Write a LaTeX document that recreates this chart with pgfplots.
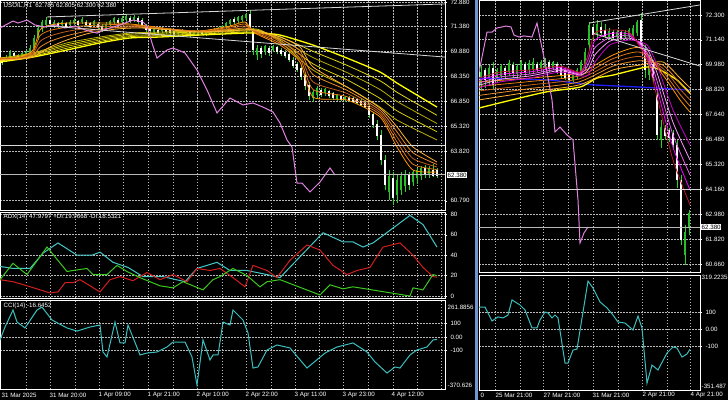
\documentclass[border=0pt]{standalone}
\usepackage{fontspec}
\setmainfont{Liberation Sans}
\usepackage{pgfplots}
\pgfplotsset{compat=1.18}

\definecolor{wickc}{RGB}{40,210,40}
\definecolor{bullc}{RGB}{40,190,40}
\definecolor{gridc}{RGB}{185,185,185}
\definecolor{orc0}{RGB}{255,150,0}
\definecolor{orc1}{RGB}{225,120,20}
\definecolor{orc2}{RGB}{195,95,25}
\definecolor{orc3}{RGB}{235,140,40}
\definecolor{orc4}{RGB}{255,175,50}
\definecolor{ye0}{RGB}{190,180,0}
\definecolor{ye1}{RGB}{215,205,10}
\definecolor{ye2}{RGB}{180,170,0}
\definecolor{ye3}{RGB}{225,215,20}
\definecolor{ye4}{RGB}{255,255,0}
\definecolor{purp}{RGB}{225,130,225}
\definecolor{mg0}{RGB}{190,20,50}
\definecolor{mg1}{RGB}{255,0,255}
\definecolor{mg2}{RGB}{235,90,235}
\definecolor{mg3}{RGB}{255,150,255}
\definecolor{mg4}{RGB}{200,0,200}
\definecolor{adxc}{RGB}{70,200,200}
\definecolor{dimc}{RGB}{210,30,30}
\definecolor{dipc}{RGB}{60,200,30}
\definecolor{ccic}{RGB}{60,190,190}
\definecolor{bluec}{RGB}{30,30,250}
\definecolor{tlc}{RGB}{215,215,215}
\definecolor{stripc}{RGB}{110,150,210}

\newcommand\mtf{\fontsize{6.2}{7}\selectfont}

\pgfplotsset{
  mtbase/.style={
    scale only axis, clip=true, anchor=south west,
    axis line style={draw=white,line width=0.6pt},
    tick style={white,line width=0.4pt},
    major tick length=2pt, tick align=outside,
    ytick pos=right, yticklabel pos=right,
    xtick pos=bottom, xtick style={draw=none}, xticklabels={},
    grid=major,
    major grid style={draw=gridc,line width=0.7pt,dash pattern=on 1.5pt off 1.5pt},
    ticklabel style={font=\mtf,text=white},
    /pgf/number format/assume math mode=true,
    unbounded coords=jump,
  },
  leftx/.style={xmin=0,xmax=445,xtick={26,50,75,99,123,148,173,197,222,246,271,295,319,343,368,393,417,441}},
  rightx/.style={xmin=479,xmax=700,xtick={495,520,543,568,593,618,642,667,690}},
  wick/.style={draw=wickc,line width=0.8pt,mark=none},
  bullb/.style={draw=bullc,line width=2.2pt,mark=none,line cap=butt},
  bearb/.style={draw=white,line width=2.2pt,mark=none,line cap=butt},
  rib/.style={mark=none,line width=0.8pt,smooth,tension=0.4},
}

\begin{document}
\begin{tikzpicture}
\fill[black] (0pt,0pt) rectangle (728pt,400pt);
\useasboundingbox (0pt,0pt) rectangle (728pt,400pt);

% ---------- left: price window
\begin{axis}[mtbase,leftx,at={(0pt,190pt)},width=445pt,height=210pt,
  ymin=60.232,ymax=73.0,
  ytick={72.88,71.38,69.88,68.35,66.85,65.32,63.82,60.79},
  yticklabels={72.880,71.380,69.880,68.350,66.850,65.320,63.820,60.790}]
\addplot[wick] coordinates {
(2,69.05)(2,69.53)(2,nan) (6,69.23)(6,69.66)(6,nan) (10,69.35)(10,69.96)(10,nan)
(14,69.47)(14,69.84)(14,nan) (18,69.35)(18,69.72)(18,nan) (22,69.47)(22,69.84)(22,nan)
(26,69.53)(26,69.96)(26,nan) (30,69.60)(30,70.26)(30,nan) (34,69.96)(34,70.87)(34,nan)
(38,70.57)(38,71.48)(38,nan) (42,71.05)(42,71.78)(42,nan) (46,71.30)(46,71.97)(46,nan)
(50,71.42)(50,71.91)(50,nan) (54,71.30)(54,71.78)(54,nan) (58,71.30)(58,71.66)(58,nan)
(62,71.36)(62,71.78)(62,nan) (66,71.30)(66,71.66)(66,nan) (70,71.42)(70,71.78)(70,nan)
(74,71.48)(74,71.91)(74,nan) (78,71.36)(78,71.78)(78,nan) (82,71.54)(82,71.97)(82,nan)
(86,71.36)(86,71.78)(86,nan) (90,71.30)(90,71.66)(90,nan) (94,71.42)(94,71.78)(94,nan)
(98,71.18)(98,71.66)(98,nan) (102,71.05)(102,71.54)(102,nan) (106,71.18)(106,71.66)(106,nan)
(110,71.36)(110,71.78)(110,nan) (114,71.54)(114,71.97)(114,nan) (118,71.48)(118,71.91)(118,nan)
(122,71.54)(122,72.03)(122,nan) (126,71.66)(126,72.15)(126,nan) (130,71.60)(130,72.03)(130,nan)
(134,71.66)(134,72.09)(134,nan) (138,71.54)(138,72.03)(138,nan) (142,71.30)(142,71.91)(142,nan)
(146,71.05)(146,71.54)(146,nan) (150,70.99)(150,71.42)(150,nan) (154,70.93)(154,71.36)(154,nan)
(158,70.87)(158,71.30)(158,nan) (162,70.99)(162,71.36)(162,nan) (166,70.93)(166,71.30)(166,nan)
(170,70.87)(170,71.30)(170,nan) (174,70.81)(174,71.24)(174,nan) (178,70.81)(178,71.18)(178,nan)
(182,70.87)(182,71.24)(182,nan) (186,70.81)(186,71.18)(186,nan) (190,70.75)(190,71.12)(190,nan)
(194,70.81)(194,71.12)(194,nan) (198,70.81)(198,71.18)(198,nan) (202,70.87)(202,71.18)(202,nan)
(206,70.81)(206,71.18)(206,nan) (210,70.87)(210,71.24)(210,nan) (214,70.93)(214,71.30)(214,nan)
(218,70.99)(218,71.36)(218,nan) (222,71.05)(222,71.48)(222,nan) (226,71.24)(226,71.66)(226,nan)
(230,71.42)(230,71.84)(230,nan) (234,71.54)(234,71.97)(234,nan) (238,71.60)(238,72.03)(238,nan)
(242,71.66)(242,72.09)(242,nan) (246,71.78)(246,72.21)(246,nan) (250,71.18)(250,72.39)(250,nan)
(253,69.66)(253,71.30)(253,nan) (257,69.35)(257,70.26)(257,nan) (261,69.47)(261,70.20)(261,nan)
(265,69.66)(265,70.26)(265,nan) (269,69.60)(269,70.20)(269,nan) (273,69.84)(273,70.26)(273,nan)
(277,69.72)(277,70.20)(277,nan) (281,69.60)(281,70.08)(281,nan) (285,69.47)(285,69.96)(285,nan)
(289,69.23)(289,69.84)(289,nan) (293,68.87)(293,69.53)(293,nan) (297,68.62)(297,69.23)(297,nan)
(301,68.14)(301,69.05)(301,nan) (305,67.53)(305,68.62)(305,nan) (309,66.92)(309,68.01)(309,nan)
(313,66.80)(313,67.53)(313,nan) (317,67.04)(317,67.77)(317,nan) (321,67.10)(321,67.65)(321,nan)
(325,67.16)(325,67.65)(325,nan) (329,67.04)(329,67.53)(329,nan) (333,66.92)(333,67.41)(333,nan)
(337,66.86)(337,67.28)(337,nan) (341,66.86)(341,67.22)(341,nan) (345,66.80)(345,67.16)(345,nan)
(349,66.80)(349,67.16)(349,nan) (353,66.74)(353,67.10)(353,nan) (357,66.68)(357,67.04)(357,nan)
(361,66.56)(361,66.98)(361,nan) (365,66.43)(365,66.92)(365,nan) (369,65.83)(369,66.68)(369,nan)
(373,65.22)(373,66.19)(373,nan) (377,64.49)(377,65.70)(377,nan) (381,62.97)(381,65.10)(381,nan)
(385,61.45)(385,63.58)(385,nan) (389,60.84)(389,62.66)(389,nan) (393,60.54)(393,62.54)(393,nan)
(397,60.66)(397,62.36)(397,nan) (401,61.14)(401,62.54)(401,nan) (405,61.33)(405,62.66)(405,nan)
(409,61.45)(409,62.54)(409,nan) (413,61.69)(413,62.66)(413,nan) (417,61.81)(417,62.79)(417,nan)
(421,62.06)(421,62.91)(421,nan) (425,62.18)(425,62.97)(425,nan) (429,62.18)(429,62.91)(429,nan)
(433,62.24)(433,63.03)(433,nan) (437,62.18)(437,62.79)(437,nan)};
\addplot[bullb] coordinates {
(6,69.35)(6,69.53)(6,nan) (10,69.53)(10,69.84)(10,nan) (22,69.60)(22,69.78)(22,nan)
(26,69.66)(26,69.84)(26,nan) (30,69.72)(30,70.08)(30,nan) (34,70.08)(34,70.69)(34,nan)
(38,70.69)(38,71.30)(38,nan) (42,71.30)(42,71.66)(42,nan) (46,71.48)(46,71.78)(46,nan)
(54,71.42)(54,71.66)(54,nan) (62,71.48)(62,71.66)(62,nan) (70,71.48)(70,71.66)(70,nan)
(74,71.60)(74,71.78)(74,nan) (82,71.66)(82,71.84)(82,nan) (94,71.48)(94,71.72)(94,nan)
(106,71.30)(106,71.54)(106,nan) (110,71.48)(110,71.72)(110,nan) (114,71.66)(114,71.91)(114,nan)
(122,71.66)(122,71.91)(122,nan) (126,71.78)(126,72.03)(126,nan) (134,71.78)(134,71.97)(134,nan)
(154,71.05)(154,71.24)(154,nan) (162,71.12)(162,71.30)(162,nan) (178,70.93)(178,71.12)(178,nan)
(182,70.99)(182,71.18)(182,nan) (194,70.87)(194,71.05)(194,nan) (198,70.93)(198,71.12)(198,nan)
(206,70.93)(206,71.12)(206,nan) (210,70.99)(210,71.18)(210,nan) (214,71.05)(214,71.24)(214,nan)
(218,71.12)(218,71.30)(218,nan) (222,71.18)(222,71.42)(222,nan) (226,71.36)(226,71.60)(226,nan)
(230,71.54)(230,71.78)(230,nan) (238,71.72)(238,71.97)(238,nan) (242,71.78)(242,72.03)(242,nan)
(246,71.91)(246,72.15)(246,nan) (257,69.66)(257,70.08)(257,nan) (265,69.90)(265,70.20)(265,nan)
(273,69.96)(273,70.20)(273,nan) (313,67.04)(313,67.41)(313,nan) (317,67.22)(317,67.65)(317,nan)
(325,67.35)(325,67.59)(325,nan) (337,66.98)(337,67.22)(337,nan) (345,66.92)(345,67.10)(345,nan)
(389,61.33)(389,62.30)(389,nan) (397,61.14)(397,62.06)(397,nan) (401,61.45)(401,62.30)(401,nan)
(405,61.69)(405,62.42)(405,nan) (413,61.93)(413,62.54)(413,nan) (417,62.18)(417,62.66)(417,nan)
(421,62.30)(421,62.79)(421,nan) (429,62.42)(429,62.79)(429,nan)};
\addplot[bearb] coordinates {
(2,69.17)(2,69.41)(2,nan) (14,69.60)(14,69.78)(14,nan) (18,69.47)(18,69.66)(18,nan)
(50,71.54)(50,71.78)(50,nan) (58,71.42)(58,71.60)(58,nan) (66,71.36)(66,71.60)(66,nan)
(78,71.48)(78,71.72)(78,nan) (86,71.48)(86,71.66)(86,nan) (90,71.36)(90,71.60)(90,nan)
(98,71.30)(98,71.54)(98,nan) (102,71.18)(102,71.42)(102,nan) (118,71.60)(118,71.78)(118,nan)
(130,71.72)(130,71.91)(130,nan) (138,71.66)(138,71.91)(138,nan) (142,71.42)(142,71.78)(142,nan)
(146,71.18)(146,71.42)(146,nan) (150,71.12)(150,71.30)(150,nan) (158,70.99)(158,71.18)(158,nan)
(166,71.05)(166,71.24)(166,nan) (170,70.99)(170,71.18)(170,nan) (174,70.93)(174,71.12)(174,nan)
(186,70.93)(186,71.12)(186,nan) (190,70.87)(190,71.05)(190,nan) (202,70.93)(202,71.12)(202,nan)
(234,71.66)(234,71.84)(234,nan) (250,71.30)(250,72.15)(250,nan) (253,69.96)(253,71.18)(253,nan)
(261,69.72)(261,70.08)(261,nan) (269,69.78)(269,70.08)(269,nan) (277,69.84)(277,70.14)(277,nan)
(281,69.72)(281,69.96)(281,nan) (285,69.60)(285,69.84)(285,nan) (289,69.35)(289,69.72)(289,nan)
(293,68.99)(293,69.35)(293,nan) (297,68.74)(297,69.11)(297,nan) (301,68.32)(301,68.87)(301,nan)
(305,67.77)(305,68.44)(305,nan) (309,67.16)(309,67.83)(309,nan) (321,67.22)(321,67.53)(321,nan)
(329,67.16)(329,67.47)(329,nan) (333,67.04)(333,67.35)(333,nan) (341,66.92)(341,67.16)(341,nan)
(349,66.86)(349,67.10)(349,nan) (353,66.80)(353,67.04)(353,nan) (357,66.74)(357,66.98)(357,nan)
(361,66.62)(361,66.86)(361,nan) (365,66.49)(365,66.80)(365,nan) (369,66.01)(369,66.56)(369,nan)
(373,65.40)(373,66.07)(373,nan) (377,64.73)(377,65.46)(377,nan) (381,63.27)(381,64.79)(381,nan)
(385,61.75)(385,63.27)(385,nan) (393,60.96)(393,62.18)(393,nan) (409,61.75)(409,62.36)(409,nan)
(425,62.36)(425,62.79)(425,nan) (433,62.30)(433,62.66)(433,nan) (437,62.30)(437,62.66)(437,nan)};
% slow ribbon (yellow)
\addplot[rib,ye0] coordinates {(0,69.47)(33,69.78)(67,70.39)(100,70.75)(130,70.99)(160,71.05)(200,71.12)(245,71.24)(260,71.18)(280,70.45)(313,68.74)(347,67.71)(380,66.49)(397,65.70)(437,64.49)};
\addplot[rib,ye1] coordinates {(0,69.41)(33,69.72)(67,70.28)(100,70.66)(130,70.92)(160,70.98)(200,71.06)(245,71.18)(260,71.13)(280,70.56)(313,69.12)(347,68.15)(380,67.02)(397,66.26)(437,64.99)};
\addplot[rib,ye2] coordinates {(0,69.35)(33,69.66)(67,70.18)(100,70.57)(130,70.84)(160,70.90)(200,71.00)(245,71.12)(260,71.09)(280,70.66)(313,69.50)(347,68.59)(380,67.56)(397,66.83)(437,65.49)};
\addplot[rib,ye3] coordinates {(0,69.29)(33,69.59)(67,70.07)(100,70.48)(130,70.77)(160,70.83)(200,70.93)(245,71.05)(260,71.04)(280,70.77)(313,69.88)(347,69.03)(380,68.09)(397,67.39)(437,65.99)};
\addplot[rib,ye4,line width=1.3pt] coordinates {(0,69.23)(33,69.53)(67,69.96)(100,70.39)(130,70.69)(160,70.75)(200,70.87)(245,70.99)(260,70.99)(280,70.87)(313,70.26)(347,69.47)(380,68.62)(397,67.95)(437,66.49)};
% fast ribbon (orange)
\addplot[rib,orc0] coordinates {(0,69.47)(20,69.53)(33,69.96)(40,71.18)(50,71.48)(67,71.60)(90,71.60)(117,71.60)(140,71.48)(170,71.24)(200,71.12)(230,71.42)(245,71.66)(255,70.99)(280,70.26)(300,69.23)(313,67.10)(347,66.92)(380,65.89)(397,64.06)(413,62.66)(437,62.54)};
\addplot[rib,orc1] coordinates {(0,69.44)(20,69.50)(33,69.85)(40,70.83)(50,71.15)(67,71.34)(90,71.45)(117,71.51)(140,71.44)(170,71.23)(200,71.10)(230,71.35)(245,71.54)(255,71.04)(280,70.38)(300,69.46)(313,67.56)(347,67.12)(380,66.03)(397,64.37)(413,63.01)(437,62.69)};
\addplot[rib,orc2] coordinates {(0,69.41)(20,69.47)(33,69.75)(40,70.48)(50,70.81)(67,71.09)(90,71.30)(117,71.42)(140,71.39)(170,71.21)(200,71.09)(230,71.27)(245,71.42)(255,71.09)(280,70.51)(300,69.69)(313,68.02)(347,67.32)(380,66.16)(397,64.67)(413,63.36)(437,62.85)};
\addplot[rib,orc3] coordinates {(0,69.38)(20,69.44)(33,69.64)(40,70.13)(50,70.48)(67,70.83)(90,71.14)(117,71.33)(140,71.35)(170,71.20)(200,71.07)(230,71.20)(245,71.30)(255,71.13)(280,70.63)(300,69.91)(313,68.47)(347,67.51)(380,66.30)(397,64.98)(413,63.71)(437,63.00)};
\addplot[rib,orc4] coordinates {(0,69.35)(20,69.41)(33,69.53)(40,69.78)(50,70.14)(67,70.57)(90,70.99)(117,71.24)(140,71.30)(170,71.18)(200,71.05)(230,71.12)(245,71.18)(255,71.18)(280,70.75)(300,70.14)(313,68.93)(347,67.71)(380,66.43)(397,65.28)(413,64.06)(437,63.15)};
% overlay line
\addplot[purp,line width=1pt,mark=none] coordinates {(0,71.30)(13,71.72)(18,71.60)(27,71.78)(35,71.48)(45,71.36)(55,71.48)(65,71.30)(75,71.42)(85,71.18)(97,70.99)(104,71.18)(110,71.30)(120,71.48)(133,71.78)(143,71.66)(147,71.42)(152,70.39)(157,69.47)(167,69.96)(173,70.08)(185,69.78)(197,68.74)(207,67.53)(217,66.13)(230,67.04)(243,66.62)(253,66.74)(263,66.49)(273,66.19)(280,65.52)(287,64.49)(292,64.06)(297,61.87)(302,61.87)(310,61.33)(320,61.93)(330,62.79)(335,62.36)};
% trend lines and levels
\addplot[tlc,line width=0.8pt,mark=none] coordinates {(47,71.97)(445,72.76)};
\addplot[tlc,line width=0.8pt,mark=none] coordinates {(48,71.42)(445,69.53)};
\addplot[tlc,line width=0.8pt,mark=none] coordinates {(0,64.16)(445,64.16)};
\addplot[gridc,line width=0.6pt,mark=none] coordinates {(0,62.38)(445,62.38)};
\end{axis}

% ---------- left: ADX window
\begin{axis}[mtbase,leftx,at={(0pt,102pt)},width=445pt,height=86pt,
  ymin=-1.96,ymax=82.32,ytick={0,20,40,60,80},yticklabels={0,20,40,60,80}]
\addplot[adxc,line width=1pt,mark=none] coordinates {(0,29)(13,27)(30,27)(43,42)(58,52)(77,40)(92,40)(100,43)(113,33)(128,28)(143,19)(163,19)(185,14)(197,27)(217,33)(230,25)(247,25)(267,21)(280,18)(323,62)(343,53)(353,53)(363,48)(373,52)(410,79)(423,70)(437,48)};
\addplot[dimc,line width=1pt,mark=none] coordinates {(0,16)(13,14)(27,10)(50,3)(58,4)(65,13)(73,13)(80,16)(100,4)(110,16)(120,19)(133,15)(147,23)(160,16)(173,21)(187,14)(197,27)(210,25)(220,27)(233,18)(245,9)(253,30)(267,25)(277,18)(290,35)(307,50)(320,45)(333,30)(347,21)(357,25)(370,28)(383,48)(400,52)(413,40)(423,28)(433,19)(437,18.5)};
\addplot[dipc,line width=1pt,mark=none] coordinates {(0,16)(13,32)(27,21)(47,48)(67,24)(73,25)(87,27)(93,21)(107,21)(117,30)(127,24)(140,18)(160,10)(173,8)(183,14)(203,6)(213,16)(220,19)(233,27)(247,20)(260,9)(267,14)(280,16)(320,1)(330,11)(343,7)(353,9)(410,0)(413,8)(423,6)(433,21)(437,20)};
\end{axis}

% ---------- left: CCI window
\begin{axis}[mtbase,leftx,at={(0pt,11pt)},width=445pt,height=89pt,
  ymin=-385.3,ymax=274.2,ytick={-100,0,100},yticklabels={-100,0.00,100}]
\addplot[ccic,line width=1pt,mark=none] coordinates {(0,-22)(5,74)(13,200)(17,111)(25,67)(37,200)(42,222)(52,126)(67,67)(77,44)(90,74)(100,89)(103,-111)(107,-148)(115,111)(120,-44)(125,-44)(128,89)(140,-133)(147,-119)(157,-111)(167,-74)(173,-37)(185,-37)(192,-148)(197,-356)(203,-22)(210,-170)(213,-133)(218,-133)(223,111)(230,89)(233,200)(243,126)(248,30)(253,-230)(258,-222)(267,-96)(277,-59)(290,-81)(307,-230)(325,-119)(337,-74)(353,-44)(367,-111)(375,-185)(387,-267)(395,-222)(400,-230)(410,-133)(417,-96)(427,-74)(433,-22)(437,-17)};
\end{axis}

% ---------- right: price window
\begin{axis}[mtbase,rightx,at={(479pt,128pt)},width=221pt,height=272pt,
  ymin=60.284,ymax=73.0,
  ytick={72.30,71.14,69.98,68.82,67.64,66.48,65.32,64.16,62.98,61.82,60.66},
  yticklabels={72.300,71.140,69.980,68.820,67.640,66.480,65.320,64.160,62.980,61.820,60.660}]
\addplot[wick] coordinates {
(481,68.79)(481,69.96)(481,nan) (485,68.89)(485,69.82)(485,nan) (489,69.03)(489,69.96)(489,nan)
(493,68.79)(493,70.10)(493,nan) (497,69.17)(497,69.82)(497,nan) (501,69.26)(501,70.01)(501,nan)
(505,69.35)(505,69.91)(505,nan) (509,69.45)(509,70.20)(509,nan) (513,69.35)(513,70.10)(513,nan)
(517,69.26)(517,70.01)(517,nan) (521,69.49)(521,70.20)(521,nan) (525,69.45)(525,70.10)(525,nan)
(529,69.54)(529,70.20)(529,nan) (533,69.54)(533,70.29)(533,nan) (537,69.63)(537,70.10)(537,nan)
(541,69.63)(541,70.20)(541,nan) (545,69.73)(545,70.29)(545,nan) (549,69.63)(549,70.20)(549,nan)
(553,69.73)(553,70.15)(553,nan) (557,69.54)(557,70.10)(557,nan) (561,69.35)(561,69.96)(561,nan)
(565,69.26)(565,69.82)(565,nan) (569,69.17)(569,69.73)(569,nan) (573,69.07)(573,69.73)(573,nan)
(577,69.26)(577,69.82)(577,nan) (581,69.45)(581,70.20)(581,nan) (585,69.73)(585,70.76)(585,nan)
(589,70.66)(589,71.97)(589,nan) (593,71.13)(593,71.83)(593,nan) (597,71.22)(597,72.07)(597,nan)
(601,71.36)(601,71.97)(601,nan) (605,71.22)(605,71.88)(605,nan) (609,71.13)(609,71.69)(609,nan)
(613,71.13)(613,71.60)(613,nan) (617,71.18)(617,71.60)(617,nan) (621,71.13)(621,71.60)(621,nan)
(625,71.18)(625,71.60)(625,nan) (629,71.22)(629,71.69)(629,nan) (633,71.22)(633,71.83)(633,nan)
(637,71.32)(637,72.07)(637,nan) (641,70.76)(641,72.39)(641,nan) (645,69.35)(645,70.90)(645,nan)
(649,69.26)(649,70.43)(649,nan) (653,69.17)(653,70.20)(653,nan) (657,66.46)(657,68.79)(657,nan)
(661,66.08)(661,67.39)(661,nan) (665,66.46)(665,67.16)(665,nan) (669,66.36)(669,67.02)(669,nan)
(673,65.99)(673,66.92)(673,nan) (677,64.21)(677,66.46)(677,nan) (681,61.55)(681,64.82)(681,nan)
(685,60.61)(685,62.48)(685,nan) (689,62.01)(689,63.18)(689,nan)};
\addplot[bullb] coordinates {
(481,69.03)(481,69.63)(481,nan) (489,69.35)(489,69.82)(489,nan) (497,69.35)(497,69.73)(497,nan)
(501,69.45)(501,69.91)(501,nan) (509,69.63)(509,70.05)(509,nan) (517,69.54)(517,69.91)(517,nan)
(521,69.73)(521,70.10)(521,nan) (529,69.73)(529,70.05)(529,nan) (533,69.73)(533,70.10)(533,nan)
(541,69.77)(541,70.10)(541,nan) (545,69.82)(545,70.15)(545,nan) (553,69.82)(553,70.10)(553,nan)
(573,69.26)(573,69.63)(573,nan) (577,69.40)(577,69.73)(577,nan) (581,69.63)(581,70.10)(581,nan)
(585,69.91)(585,70.57)(585,nan) (589,70.90)(589,71.83)(589,nan) (597,71.41)(597,71.88)(597,nan)
(609,71.27)(609,71.55)(609,nan) (617,71.27)(617,71.50)(617,nan) (625,71.27)(625,71.50)(625,nan)
(629,71.32)(629,71.60)(629,nan) (633,71.36)(633,71.69)(633,nan) (637,71.46)(637,71.97)(637,nan)
(649,69.49)(649,70.10)(649,nan) (661,66.46)(661,67.06)(661,nan) (685,61.08)(685,62.15)(685,nan)
(689,62.34)(689,63.04)(689,nan)};
\addplot[bearb] coordinates {
(485,69.26)(485,69.73)(485,nan) (493,69.03)(493,69.82)(493,nan) (505,69.49)(505,69.82)(505,nan)
(513,69.59)(513,69.96)(513,nan) (525,69.63)(525,70.01)(525,nan) (537,69.73)(537,70.01)(537,nan)
(549,69.77)(549,70.10)(549,nan) (557,69.63)(557,70.01)(557,nan) (561,69.49)(561,69.87)(561,nan)
(565,69.35)(565,69.73)(565,nan) (569,69.26)(569,69.63)(569,nan) (593,71.36)(593,71.74)(593,nan)
(601,71.46)(601,71.74)(601,nan) (605,71.32)(605,71.60)(605,nan) (613,71.22)(613,71.50)(613,nan)
(621,71.22)(621,71.50)(621,nan) (641,70.90)(641,72.07)(641,nan) (645,69.73)(645,70.66)(645,nan)
(653,69.35)(653,70.01)(653,nan) (657,66.69)(657,68.56)(657,nan) (665,66.64)(665,67.02)(665,nan)
(669,66.55)(669,66.92)(669,nan) (673,66.22)(673,66.78)(673,nan) (677,64.59)(677,66.22)(677,nan)
(681,61.78)(681,64.59)(681,nan)};
\addplot[bluec,line width=1.3pt,mark=none] coordinates {(479,69.35)(550,69.26)(593,69.03)(640,68.93)(690,68.79)};
\addplot[rib,ye4,line width=1.3pt] coordinates {(479,67.95)(512,68.33)(546,68.70)(580,68.93)(597,69.35)(613,69.49)(647,69.87)(660,69.73)(677,69.26)(690,68.65)};
\addplot[rib,orc4] coordinates {(479,68.33)(530,68.70)(579,69.03)(613,69.73)(640,69.96)(663,70.10)(680,69.35)(690,68.89)};
\addplot[rib,orc3] coordinates {(479,68.54)(530,68.86)(579,69.17)(613,69.91)(640,70.16)(663,69.95)(680,69.10)(690,68.61)};
\addplot[rib,orc2] coordinates {(479,68.75)(530,69.03)(579,69.31)(613,70.08)(640,70.36)(663,69.80)(680,68.84)(690,68.33)};
\addplot[rib,orc1] coordinates {(479,68.96)(530,69.19)(579,69.45)(613,70.26)(640,70.56)(663,69.64)(680,68.59)(690,68.04)};
\addplot[rib,orc0] coordinates {(479,69.17)(530,69.35)(579,69.59)(613,70.43)(640,70.76)(663,69.49)(680,68.33)(690,67.76)};
\addplot[rib,mg4] coordinates {(479,68.89)(500,69.17)(530,69.35)(560,69.63)(580,69.45)(588,69.49)(595,70.10)(610,70.90)(630,71.13)(647,70.90)(657,69.96)(673,67.86)(690,66.22)};
\addplot[rib,mg3] coordinates {(479,69.01)(500,69.29)(530,69.45)(560,69.70)(580,69.50)(588,69.73)(595,70.44)(610,71.08)(630,71.21)(647,70.73)(657,69.59)(673,67.28)(690,65.52)};
\addplot[rib,mg2] coordinates {(479,69.12)(500,69.40)(530,69.54)(560,69.77)(580,69.54)(588,69.96)(595,70.78)(610,71.25)(630,71.30)(647,70.55)(657,69.22)(673,66.69)(690,64.82)};
\addplot[rib,mg1] coordinates {(479,69.24)(500,69.52)(530,69.64)(560,69.84)(580,69.59)(588,70.20)(595,71.12)(610,71.43)(630,71.38)(647,70.38)(657,68.84)(673,66.11)(690,64.12)};
\addplot[rib,mg0] coordinates {(479,69.35)(500,69.63)(530,69.73)(560,69.91)(580,69.63)(588,70.43)(595,71.46)(610,71.60)(630,71.46)(647,70.20)(657,68.47)(673,65.52)(690,63.42)};
\addplot[purp,line width=1pt,mark=none] coordinates {(479,69.63)(487,71.50)(492,71.50)(497,71.69)(506,71.78)(511,71.74)(514,71.36)(519,71.27)(524,71.32)(532,71.27)(537,71.92)(541,70.99)(546,69.87)(552,68.33)(555,66.83)(560,67.06)(567,66.69)(573,66.46)(578,63.65)(580,61.64)(584,62.11)(588,62.39)};
\addplot[tlc,line width=0.8pt,mark=none] coordinates {(589,71.92)(700,72.77)};
\addplot[tlc,line width=0.8pt,mark=none] coordinates {(592,71.46)(700,69.91)};
\addplot[tlc,line width=0.8pt,mark=none] coordinates {(479,64.16)(700,64.16)};
\addplot[gridc,line width=0.6pt,mark=none] coordinates {(479,62.38)(700,62.38)};
\end{axis}

% ---------- right: CCI window
\begin{axis}[mtbase,rightx,at={(479pt,10pt)},width=221pt,height=115pt,
  ymin=-358.7,ymax=317.5,ytick={-100,0,100},yticklabels={-100,0.00,100}]
\addplot[ccic,line width=1pt,mark=none] coordinates {(479,129)(485,129)(492,47)(498,71)(503,65)(508,82)(512,171)(520,141)(525,112)(532,6)(537,6)(540,53)(545,100)(548,94)(552,65)(555,82)(558,65)(565,-200)(568,-200)(573,-124)(577,-118)(588,282)(593,241)(600,159)(607,124)(613,82)(618,41)(625,35)(633,-6)(638,76)(642,6)(647,-318)(652,-212)(658,-241)(667,-141)(673,-106)(677,-112)(682,-165)(687,-147)(690,-118)};
\end{axis}

% window frame strip between the two charts
\fill[stripc] (475pt,0pt) rectangle (478pt,400pt);

% captions and extra scale labels
\begin{scope}[every node/.style={font=\mtf,text=white,inner sep=0.5pt}]
\node[anchor=west] at (3pt,394pt) {USOIL,H1\ \ 62.785 62.805 62.300 62.380};
\node[anchor=west] at (3pt,183pt) {ADX(14) 47.9797 +DI:19.9668 -DI:18.5321};
\node[anchor=west] at (3pt,94pt) {CCI(14) -16.6452};
\node[anchor=west] at (447pt,93pt) {261.8856};
\node[anchor=west] at (447pt,15pt) {-370.626};
\node[anchor=west] at (701pt,123pt) {319.2235};
\node[anchor=west] at (701pt,14pt) {-351.487};
\node[anchor=west,fill=white,text=black] at (447pt,225pt) {62.380};
\node[anchor=west,fill=white,text=black] at (701pt,173pt) {62.380};
\node[anchor=west] at (1pt,5pt) {31 Mar 2025};
\node[anchor=west] at (49pt,5pt) {31 Mar 20:00};
\node[anchor=west] at (98pt,5pt) {1 Apr 09:00};
\node[anchor=west] at (147pt,5pt) {1 Apr 21:00};
\node[anchor=west] at (196pt,5pt) {2 Apr 10:00};
\node[anchor=west] at (245pt,5pt) {2 Apr 22:00};
\node[anchor=west] at (294pt,5pt) {3 Apr 11:00};
\node[anchor=west] at (342pt,5pt) {3 Apr 23:00};
\node[anchor=west] at (391pt,5pt) {4 Apr 12:00};
\node[anchor=west] at (480pt,5pt) {0};
\node[anchor=west] at (495pt,5pt) {25 Mar 21:00};
\node[anchor=west] at (543pt,5pt) {27 Mar 21:00};
\node[anchor=west] at (592pt,5pt) {31 Mar 21:00};
\node[anchor=west] at (642pt,5pt) {2 Apr 21:00};
\node[anchor=west] at (690pt,5pt) {4 Apr 21:00};
\end{scope}
\end{tikzpicture}
\end{document}
